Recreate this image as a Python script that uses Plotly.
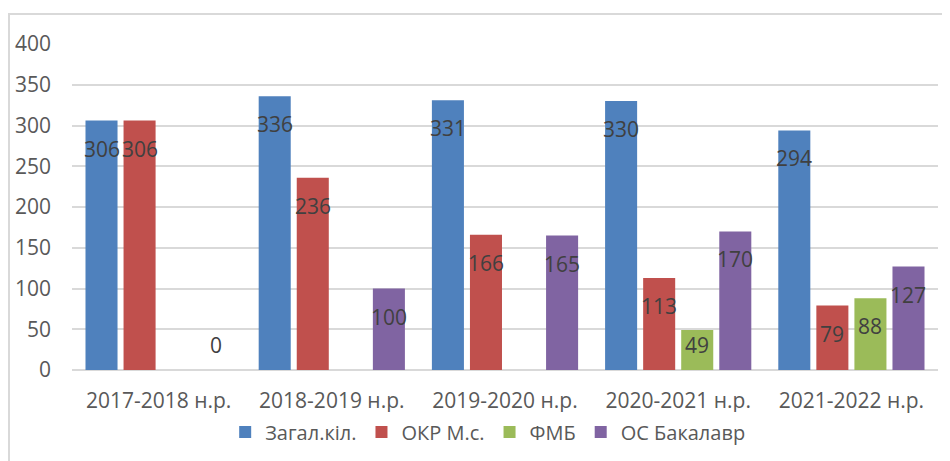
import plotly.graph_objects as go

categories = ["2017-2018 н.р.", "2018-2019 н.р.", "2019-2020 н.р.", "2020-2021 н.р.", "2021-2022 н.р."]
series_names = ["Загал.кіл.", "ОКР М.с.", "ФМБ", "ОС Бакалавр"]
zagal = [306, 336, 331, 330, 294]
okr = [306, 236, 166, 113, 79]
fmb = [None, None, None, 49, 88]
os_bak = [0, 100, 165, 170, 127]
y_ticks = [0, 50, 100, 150, 200, 250, 300, 350, 400]

series_values = [zagal, okr, fmb, os_bak]
colors = ["#4F81BD", "#C0504D", "#9BBB59", "#8064A2"]

W, H = 950, 461
ML, MR, MT, MB = 64, 20, 36, 99
FONT = "Open Sans"
TXT = "#595959"
LBL = "#404040"

bargap = 0.121
bargroupgap = 0.158

fig = go.Figure()
for name, vals, col in zip(series_names, series_values, colors):
    fig.add_trace(go.Bar(
        name=name, x=categories, y=vals,
        marker=dict(color=col, line=dict(width=0)),
        hoverinfo="x+y+name",
    ))

# data labels (Excel-style, placed inside near top)
ymax = 400
plot_h = H - MT - MB
units_per_px = ymax / plot_h
n = len(series_names)
slot = (1 - bargap) / n
for si, vals in enumerate(series_values):
    off = (si - (n - 1) / 2) * slot
    for ci, v in enumerate(vals):
        if v is None:
            continue
        ypos = max(v - 28 * units_per_px, 25.5 * units_per_px)
        fig.add_annotation(
            x=ci + off, y=ypos, xref="x", yref="y",
            text=str(v), showarrow=False, yanchor="middle", xanchor="center",
            font=dict(family=FONT, size=21, color=LBL),
        )

# chart border (Excel chart area outline)
plot_w = W - ML - MR
fig.add_shape(
    type="rect", xref="paper", yref="paper",
    x0=(1 - ML) / plot_w, x1=(W + 10 - ML) / plot_w,
    y0=-(H + 10 - (H - MB)) / plot_h, y1=1 + (MT - 6) / plot_h,
    line=dict(color="#D9D9D9", width=2), fillcolor="rgba(0,0,0,0)", layer="below",
)

fig.update_layout(
    width=W, height=H,
    margin=dict(l=ML, r=MR, t=MT, b=MB, autoexpand=False),
    paper_bgcolor="white", plot_bgcolor="white",
    barmode="group", bargap=bargap, bargroupgap=bargroupgap,
    font=dict(family=FONT, size=21, color=TXT),
    showlegend=True,
    legend=dict(
        orientation="h", x=0.48, xanchor="center", y=-0.19, yanchor="middle",
        font=dict(family=FONT, size=20, color=TXT),
        itemwidth=30, traceorder="normal",
    ),
    xaxis=dict(
        type="category", showgrid=False, showline=False, ticks="", automargin=False,
        tickfont=dict(family=FONT, size=21, color=TXT), ticklabelstandoff=16,
    ),
    yaxis=dict(
        range=[0, ymax], tickvals=y_ticks, showgrid=True, gridcolor="#D9D9D9", gridwidth=2,
        zeroline=True, zerolinecolor="#D9D9D9", zerolinewidth=2, showline=False, ticks="",
        automargin=False,
        tickfont=dict(family=FONT, size=21, color=TXT), ticklabelstandoff=20,
    ),
)

fig.write_html("out.html")
